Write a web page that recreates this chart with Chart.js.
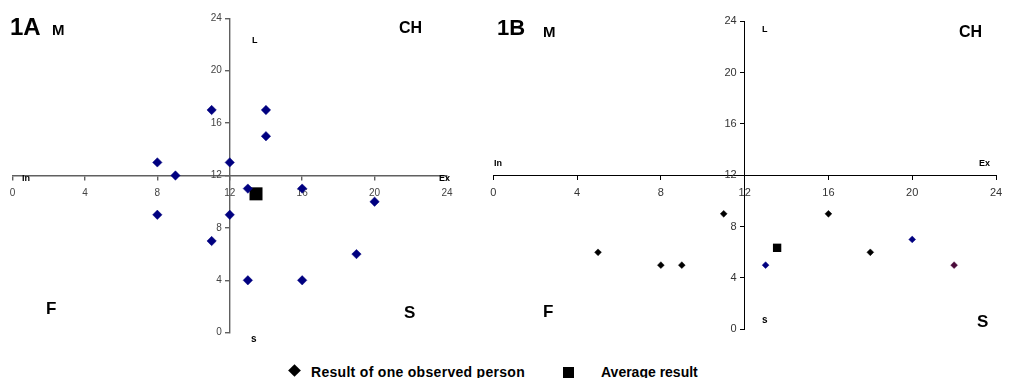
<!DOCTYPE html>
<html>
<head>
<meta charset="utf-8">
<script src="https://cdn.jsdelivr.net/npm/chart.js@4"></script>
<style>
  html, body { margin: 0; padding: 0; background: #fff; width: 1011px; height: 378px; overflow: hidden; }
  #wrapA { position: absolute; left: 0; top: 0; width: 480px; height: 350px; }
  #wrapB { position: absolute; left: 480px; top: 0; width: 531px; height: 350px; }
  .lg { position: absolute; font-family: "Liberation Sans", Arial, sans-serif; font-weight: bold; font-size: 14px; line-height: 16px; color: #000; white-space: nowrap; }
  .dia { position: absolute; width: 9px; height: 9px; background: #000; transform: rotate(45deg); }
  .sq { position: absolute; width: 11px; height: 11px; background: #000; }
</style>
</head>
<body>
<div id="wrapA"><canvas id="chartA" width="480" height="350"></canvas></div>
<div id="wrapB"><canvas id="chartB" width="531" height="350"></canvas></div>

<div class="dia" style="left:289.5px; top:366px;"></div>
<div class="lg" style="left:311px; top:364px; letter-spacing:0.3px;">Result of one observed person</div>
<div class="sq" style="left:563px; top:367px;"></div>
<div class="lg" style="left:601px; top:364px;">Average result</div>

<script>
// ---- Data ----
const tickValues = [0, 4, 8, 12, 16, 20, 24];

// Panel 1A
const aX = [11, 14, 14, 8, 9, 12, 8, 12, 11, 13, 16, 20, 19, 13, 16];
const aY = [17, 17, 15, 13, 12, 13, 9, 9, 7, 11, 11, 10, 6, 4, 4];
const aAvgX = [13.45];
const aAvgY = [10.6];

// Panel 1B
const bX = [5, 8, 9, 11, 16, 18, 13, 20, 22];
const bY = [6, 5, 5, 9, 9, 6, 5, 7, 5];
const bColors = ['#000000', '#000000', '#000000', '#000000', '#000000', '#000000', '#000080', '#000080', '#4a0a3a'];
const bAvgX = [13.55];
const bAvgY = [6.35];

// Text labels (canvas coordinates)
const labelsA = [
  { t: '1A', x: 10, y: 35, s: 24 },
  { t: 'M', x: 52, y: 35, s: 15 },
  { t: 'CH', x: 399, y: 33, s: 16 },
  { t: 'L', x: 252, y: 43, s: 9 },
  { t: 'In', x: 22, y: 181, s: 9 },
  { t: 'Ex', x: 439, y: 181, s: 9 },
  { t: 'F', x: 46, y: 314, s: 17 },
  { t: 'S', x: 404, y: 318, s: 17 },
  { t: 's', x: 251, y: 342, s: 10 }
];
const labelsB = [
  { t: '1B', x: 17, y: 35, s: 22 },
  { t: 'M', x: 63, y: 37, s: 15 },
  { t: 'CH', x: 479, y: 37, s: 16 },
  { t: 'L', x: 282, y: 32, s: 9 },
  { t: 'In', x: 14, y: 166, s: 9 },
  { t: 'Ex', x: 499, y: 166, s: 9 },
  { t: 'F', x: 63, y: 317, s: 17 },
  { t: 'S', x: 497, y: 327, s: 17 },
  { t: 's', x: 282, y: 323, s: 10 }
];

function zip(xs, ys) { return xs.map((x, i) => ({ x: x, y: ys[i] })); }

const textPlugin = {
  id: 'quadText',
  afterDraw(chart, args, opts) {
    const ctx = chart.ctx;
    ctx.save();
    // y-axis tick labels, left of the centred axis
    const xs = chart.scales.x, ys = chart.scales.y;
    const axisX = xs.getPixelForValue(12);
    ctx.fillStyle = opts.tickColor;
    ctx.font = opts.tickSize + 'px "Liberation Sans", Arial, sans-serif';
    ctx.textAlign = 'right';
    ctx.textBaseline = 'middle';
    tickValues.forEach(v => ctx.fillText(String(v), axisX - opts.gap, ys.getPixelForValue(v)));
    // quadrant / axis-end labels
    ctx.fillStyle = '#000';
    ctx.textBaseline = 'alphabetic';
    ctx.textAlign = 'left';
    (opts.items || []).forEach(l => {
      ctx.font = 'bold ' + l.s + 'px "Liberation Sans", Arial, sans-serif';
      ctx.fillText(l.t, l.x, l.y);
    });
    ctx.restore();
  }
};

function makeChart(id, cfg) {
  const axisScale = (axis) => ({
    type: 'linear',
    min: 0, max: 24,
    position: axis === 'x' ? { y: 12 } : { x: 12 },
    afterFit: (s) => { if (axis === 'x') s.height = 0; else s.width = 0; },
    afterBuildTicks: (s) => { s.ticks = tickValues.map(v => ({ value: v })); },
    border: { display: true, color: cfg.axisColor, width: cfg.axisWidth },
    grid: { display: true, drawOnChartArea: false, drawTicks: true, tickLength: 4, color: cfg.axisColor, lineWidth: cfg.axisWidth },
    ticks: {
      display: axis === 'x',
      color: cfg.tickColor,
      padding: cfg.xPad,
      font: { family: '"Liberation Sans", Arial, sans-serif', size: cfg.tickSize },
      maxRotation: 0, autoSkip: false
    }
  });
  return new Chart(document.getElementById(id), {
    type: 'scatter',
    data: {
      datasets: [
        {
          label: 'Result of one observed person',
          data: zip(cfg.xs, cfg.ys),
          pointStyle: 'rectRot',
          pointRadius: cfg.diaR,
          pointHoverRadius: cfg.diaR,
          backgroundColor: cfg.colors,
          borderColor: cfg.colors,
          borderWidth: 0.5,
          clip: false
        },
        {
          label: 'Average result',
          data: zip(cfg.avgX, cfg.avgY),
          pointStyle: 'rect',
          pointRadius: cfg.sqR,
          pointHoverRadius: cfg.sqR,
          backgroundColor: '#000',
          borderColor: '#000',
          borderWidth: 0,
          clip: false
        }
      ]
    },
    options: {
      responsive: false,
      animation: false,
      devicePixelRatio: 1,
      layout: { padding: cfg.padding },
      plugins: {
        legend: { display: false },
        tooltip: { enabled: false },
        quadText: { items: cfg.labels, tickColor: cfg.tickColor, tickSize: cfg.tickSize, gap: cfg.yGap }
      },
      scales: { x: axisScale('x'), y: axisScale('y') }
    },
    plugins: [textPlugin]
  });
}

makeChart('chartA', {
  xs: aX, ys: aY, avgX: aAvgX, avgY: aAvgY,
  colors: '#000080',
  diaR: 4.7, sqR: 9.2,
  axisColor: '#606060', axisWidth: 1.4,
  tickColor: '#444', tickSize: 10, xPad: 8, yGap: 8,
  padding: { left: 12.5, right: 33, top: 18.3, bottom: 17.3 },
  labels: labelsA
});

makeChart('chartB', {
  xs: bX, ys: bY, avgX: bAvgX, avgY: bAvgY,
  colors: bColors,
  diaR: 3.4, sqR: 5.9,
  axisColor: '#000', axisWidth: 1,
  tickColor: '#333', tickSize: 11, xPad: 7, yGap: 8,
  padding: { left: 13.3, right: 15, top: 21.3, bottom: 20.7 },
  labels: labelsB
});
</script>
</body>
</html>
